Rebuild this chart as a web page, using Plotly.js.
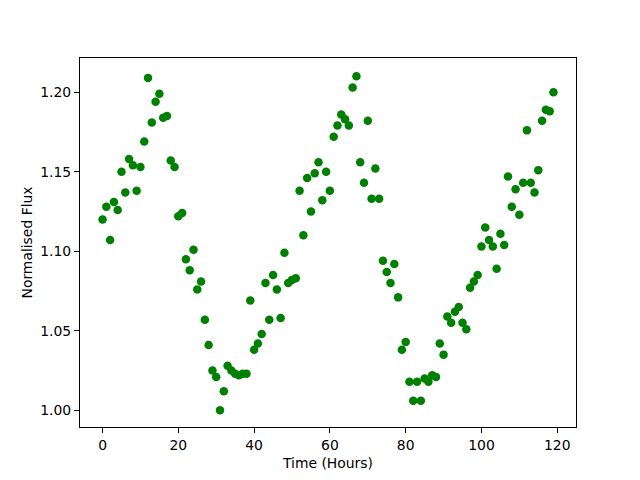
<!DOCTYPE html>
<html>
<head>
<meta charset="utf-8">
<script src="https://cdn.plot.ly/plotly-3.0.1.min.js"></script>
<style>html,body{margin:0;padding:0;background:#fff;}#chart{width:640px;height:480px;}</style>
</head>
<body>
<div id="chart"></div>
<script>
const hours = Array.from({length: 120}, (_, i) => i);
const flux = [
  1.120, 1.128, 1.107, 1.131, 1.126, 1.150, 1.137, 1.158, 1.154, 1.138,
  1.153, 1.169, 1.209, 1.181, 1.194, 1.199, 1.184, 1.185, 1.157, 1.153,
  1.122, 1.124, 1.095, 1.088, 1.101, 1.076, 1.081, 1.057, 1.041, 1.025,
  1.021, 1.000, 1.012, 1.028, 1.025, 1.023, 1.022, 1.023, 1.023, 1.069,
  1.038, 1.042, 1.048, 1.080, 1.057, 1.085, 1.076, 1.058, 1.099, 1.080,
  1.082, 1.083, 1.138, 1.110, 1.146, 1.125, 1.149, 1.156, 1.132, 1.150,
  1.138, 1.172, 1.179, 1.186, 1.183, 1.179, 1.203, 1.210, 1.156, 1.143,
  1.182, 1.133, 1.152, 1.133, 1.094, 1.087, 1.080, 1.092, 1.071, 1.038,
  1.043, 1.018, 1.006, 1.018, 1.006, 1.020, 1.018, 1.022, 1.021, 1.042,
  1.035, 1.059, 1.055, 1.062, 1.065, 1.055, 1.051, 1.077, 1.081, 1.085,
  1.103, 1.115, 1.107, 1.103, 1.089, 1.111, 1.104, 1.147, 1.128, 1.139,
  1.123, 1.143, 1.176, 1.143, 1.137, 1.151, 1.182, 1.189, 1.188, 1.200
];
const xTicks = [0, 20, 40, 60, 80, 100, 120];
const yTicks = [1.00, 1.05, 1.10, 1.15, 1.20];

const font = {family: 'DejaVu Sans', size: 13.9, color: '#000'};
const axisCommon = {
  showgrid: false, zeroline: false, showline: true, mirror: true,
  linecolor: '#000', linewidth: 1,
  ticks: 'outside', ticklen: 5, tickwidth: 1, tickcolor: '#000',
  tickfont: font
};
const trace = {
  x: hours, y: flux, type: 'scatter', mode: 'markers',
  marker: {color: '#008000', size: 8.5},
  hoverinfo: 'skip'
};
const layout = {
  width: 640, height: 480,
  margin: {l: 80, r: 64, t: 58, b: 53},
  paper_bgcolor: '#fff', plot_bgcolor: '#fff',
  showlegend: false,
  font: font,
  xaxis: Object.assign({}, axisCommon, {
    range: [-5.95, 124.95], tickvals: xTicks, ticktext: xTicks.map(String),
    title: {text: 'Time (Hours)', font: font, standoff: 6}
  }),
  yaxis: Object.assign({}, axisCommon, {
    range: [0.9895, 1.2215], tickvals: yTicks, ticktext: yTicks.map(v => v.toFixed(2)),
    title: {text: 'Normalised Flux', font: font, standoff: 4}
  })
};
Plotly.newPlot('chart', [trace], layout, {staticPlot: true, displayModeBar: false});
</script>
</body>
</html>
